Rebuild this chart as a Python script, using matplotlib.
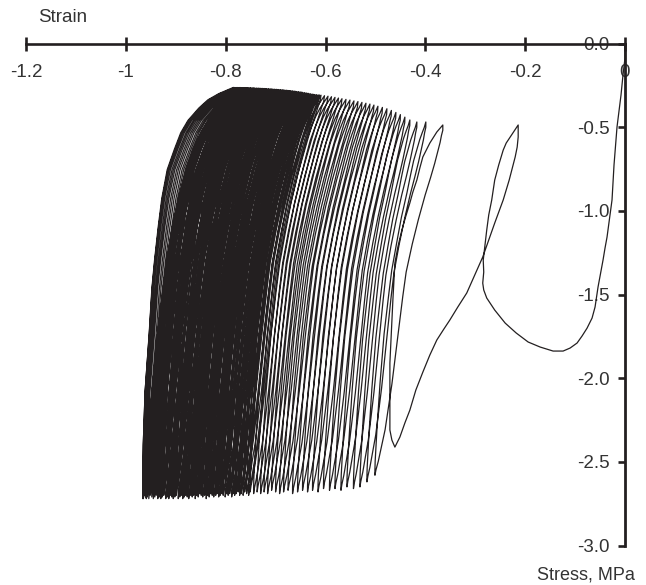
import matplotlib
matplotlib.use('Agg')
import matplotlib.pyplot as plt
import numpy as np

plt.rcParams['font.family'] = ['Liberation Sans', 'DejaVu Sans']

# first cycles, read point by point
start_strain = [0, 0, -.004, -.008, -.016, -.022, -.026, -.036, -.040, -.044, -.054, -.060, -.066, -.076, -.086, -.096,
                -.110, -.124, -.144, -.170, -.194, -.218, -.240, -.261, -.277, -.283, -.285, -.283, -.284, -.277, -.273, -.267,
                -.261, -.253, -.244, -.238, -.230, -.222, -.214, -.214, -.216, -.220, -.232, -.244, -.261, -.285, -.301, -.317,
                -.335, -.351, -.363, -.377, -.391, -.405, -.419, -.431, -.441, -.451, -.461, -.467, -.471, -.471, -.465, -.461,
                -.455, -.447, -.439, -.431, -.425, -.417, -.411, -.405, -.391, -.377, -.365]
start_stress = [0, -.087, -.188, -.308, -.499, -.726, -.935, -1.157, -1.222, -1.294, -1.455, -1.575, -1.641, -1.701, -1.748, -1.790,
                -1.820, -1.838, -1.838, -1.814, -1.784, -1.730, -1.671, -1.593, -1.521, -1.473, -1.432, -1.366, -1.294, -1.115, -1.025, -.935,
                -.816, -.726, -.637, -.595, -.559, -.523, -.487, -.559, -.619, -.678, -.816, -.935, -1.073, -1.276, -1.384, -1.491,
                -1.575, -1.653, -1.707, -1.772, -1.862, -1.964, -2.071, -2.191, -2.268, -2.352, -2.412, -2.370, -2.310, -1.910, -1.533, -1.312,
                -1.216, -1.115, -1.031, -.953, -.888, -.816, -.744, -.678, -.595, -.529, -.487]

# tips of the later cycles
bottom_strain = [-.501, -.517, -.531, -.544, -.557, -.569, -.581, -.592, -.604, -.615, -.626, -.636,
                 -.646, -.656, -.666, -.675, -.684, -.692, -.700, -.708, -.716, -.723, -.730, -.737, -.744,
                 -.751, -.754, -.758, -.762, -.765, -.769, -.772, -.775, -.779, -.782, -.785, -.788,
                 -.792, -.795, -.798, -.801, -.805, -.808, -.811, -.814, -.817, -.820, -.824, -.827,
                 -.830, -.833, -.836, -.839, -.842, -.846, -.849, -.852, -.855, -.858, -.861, -.864,
                 -.867, -.870, -.874, -.877, -.880, -.883, -.886, -.889, -.892, -.895, -.899, -.902,
                 -.905, -.908, -.911, -.914, -.917, -.920, -.924, -.927, -.930, -.933, -.936, -.939,
                 -.942, -.945, -.948, -.951, -.954, -.957, -.959, -.961, -.963, -.965, -.966, -.966]
bottom_stress = [-2.58, -2.62, -2.65, -2.66, -2.65, -2.67, -2.66, -2.67, -2.66, -2.68, -2.67, -2.68,
                 -2.67, -2.68, -2.69, -2.67, -2.68, -2.69, -2.68, -2.67, -2.69, -2.68, -2.69, -2.68, -2.69,
                 -2.68, -2.70, -2.69, -2.68, -2.70, -2.69, -2.70, -2.68, -2.69, -2.70, -2.69, -2.71,
                 -2.69, -2.70, -2.69, -2.71, -2.70, -2.69, -2.70, -2.71, -2.69, -2.70, -2.71, -2.70,
                 -2.69, -2.71, -2.70, -2.72, -2.70, -2.71, -2.70, -2.69, -2.71, -2.70, -2.72, -2.70,
                 -2.71, -2.70, -2.72, -2.71, -2.70, -2.71, -2.72, -2.70, -2.71, -2.72, -2.70, -2.71,
                 -2.72, -2.71, -2.70, -2.72, -2.71, -2.72, -2.70, -2.71, -2.72, -2.71, -2.72, -2.70,
                 -2.71, -2.72, -2.71, -2.70, -2.72, -2.71, -2.72, -2.71, -2.70, -2.72, -2.71, -2.72]
top_strain = [-.399, -.417, -.431, -.441, -.450, -.459, -.468, -.477, -.486, -.495, -.503, -.511,
              -.519, -.527, -.535, -.543, -.551, -.559, -.567, -.574, -.581, -.588, -.595, -.602, -.609,
              -.612, -.614, -.617, -.619, -.622, -.624, -.626, -.629, -.631, -.634, -.636, -.638,
              -.641, -.643, -.646, -.648, -.650, -.653, -.655, -.658, -.660, -.662, -.665, -.667,
              -.670, -.672, -.674, -.677, -.679, -.682, -.684, -.686, -.689, -.691, -.694, -.696,
              -.698, -.701, -.703, -.706, -.708, -.710, -.713, -.715, -.718, -.720, -.722, -.725,
              -.727, -.730, -.732, -.734, -.737, -.739, -.742, -.744, -.746, -.749, -.751, -.754,
              -.756, -.758, -.761, -.763, -.766, -.768, -.771, -.773, -.776, -.779, -.782, -.785]
top_stress = [-.469, -.469, -.457, -.440, -.425, -.412, -.400, -.390, -.382, -.375, -.368, -.362,
              -.357, -.352, -.347, -.343, -.338, -.334, -.330, -.326, -.322, -.318, -.315, -.312, -.309,
              -.308, -.308, -.307, -.306, -.305, -.304, -.303, -.302, -.300, -.298, -.298, -.296,
              -.295, -.294, -.292, -.291, -.290, -.289, -.288, -.287, -.286, -.285, -.284, -.283,
              -.282, -.282, -.281, -.280, -.279, -.279, -.278, -.277, -.277, -.276, -.275, -.275,
              -.274, -.274, -.273, -.273, -.272, -.272, -.271, -.271, -.270, -.270, -.269, -.269,
              -.268, -.268, -.268, -.267, -.267, -.267, -.266, -.266, -.266, -.265, -.265, -.265,
              -.265, -.264, -.264, -.264, -.264, -.264, -.263, -.263, -.263, -.263, -.263, -.263]

# loop shape: fraction of the way down in stress -> fraction of the way across in strain
shape_stress = [0, .015, .03, .05, .08, .11, .15, .2, .27, .34, .42, .49, .6, .74, .87, .96, .985, 1]
up_first = [0, .03, .07, .12, .18, .24, .30, .37, .48, .57, .67, .73, .82, .90, .96, .995, 1, 1]
up_last = [0, .16, .28, .38, .5, .58, .65, .73, .79, .83, .87, .90, .93, .975, .995, 1, 1, 1]
down_first = [0, 0, .02, .04, .08, .12, .18, .26, .36, .45, .54, .59, .66, .75, .85, .95, .985, 1]
down_last = [0, .05, .11, .19, .29, .37, .45, .53, .61, .68, .74, .78, .84, .90, .95, .985, .995, 1]

xs = list(start_strain)
ys = list(start_stress)
f = np.array(shape_stress)
n = len(bottom_strain)
for i in range(n):
    w = i / (n - 1)
    # down to the next bottom tip
    g = (1 - w) * np.array(down_first) + w * np.array(down_last)
    x0, y0 = xs[-1], ys[-1]
    xs += list(x0 + (bottom_strain[i] - x0) * g)
    ys += list(y0 + (bottom_stress[i] - y0) * f)
    # back up to the top tip
    g = (1 - w) * np.array(up_first) + w * np.array(up_last)
    xs += list(top_strain[i] + (bottom_strain[i] - top_strain[i]) * g[::-1])
    ys += list(top_stress[i] + (bottom_stress[i] - top_stress[i]) * f[::-1])

fig = plt.figure(figsize=(6.46, 5.85), dpi=100)
ax = fig.add_axes([26 / 646, 1 - 545.5 / 585, 599 / 646, 502 / 585])
ax.plot(xs, ys, color='#231f20', lw=0.9, solid_joinstyle='round', clip_on=False)

ax.set_xlim(-1.2, 0)
ax.set_ylim(-3, 0)
ax.spines['top'].set_visible(False)
ax.spines['right'].set_visible(False)
ax.spines['left'].set_position(('data', 0))
ax.spines['bottom'].set_position(('data', 0))
ax.spines['left'].set_linewidth(2)
ax.spines['bottom'].set_linewidth(1.9)
ax.spines['left'].set_color('#231f20')
ax.spines['bottom'].set_color('#231f20')

ax.set_xticks([-1.2, -1, -0.8, -0.6, -0.4, -0.2, 0])
ax.set_xticklabels(['-1.2', '-1', '-0.8', '-0.6', '-0.4', '-0.2', '0'])
ax.set_yticks([0, -0.5, -1, -1.5, -2, -2.5, -3])
ax.set_yticklabels(['0.0', '-0.5', '-1.0', '-1.5', '-2.0', '-2.5', '-3.0'])
ax.tick_params(axis='x', direction='inout', length=9.5, width=1.9, color='#231f20', labelsize=13.5, pad=10,
               labelcolor='#333333')
ax.tick_params(axis='y', direction='out', length=5, width=1.9, color='#231f20', labelsize=13.5, pad=6,
               labelcolor='#333333')
ax.patch.set_visible(False)

fig.text(38 / 646, 1 - 17.5 / 585, 'Strain', fontsize=13.5, color='#333333', ha='left', va='center')
fig.text(635 / 646, 1 - 575 / 585, 'Stress, MPa', fontsize=13, color='#333333', ha='right', va='center')

fig.savefig('out.png', dpi=100)
